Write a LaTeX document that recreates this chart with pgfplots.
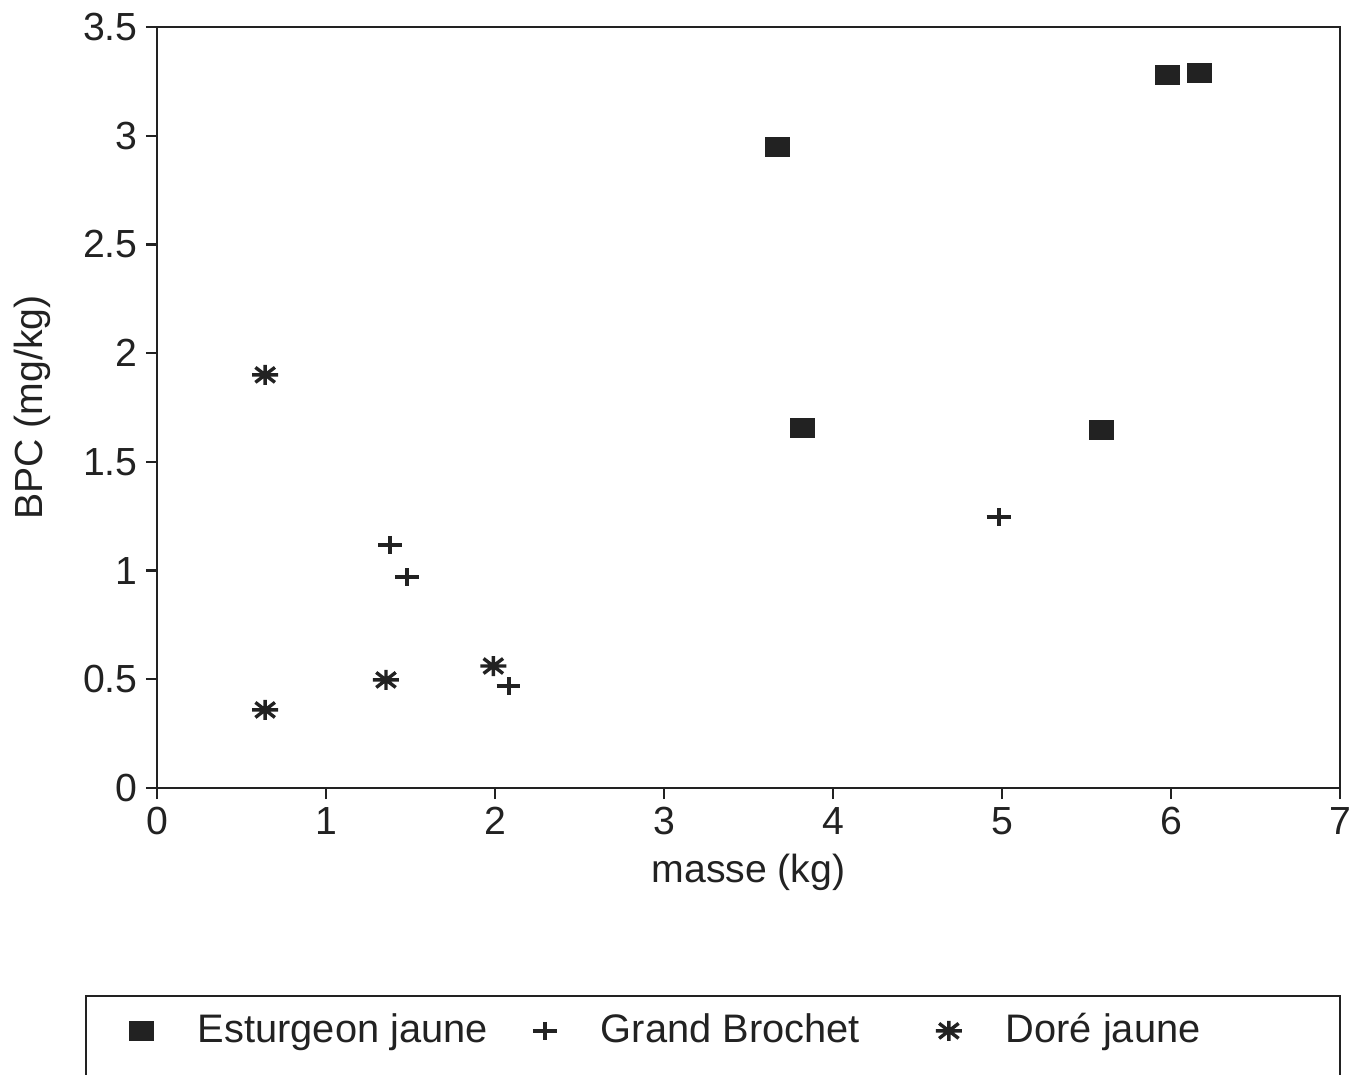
\documentclass[border=0pt]{standalone}
\usepackage{pgfplots}
\pgfplotsset{compat=1.18}
\usepackage{fontspec}
\setmainfont{Liberation Sans}
\setsansfont{Liberation Sans}
\newcommand{\F}{\fontsize{19.6pt}{23.5pt}\selectfont}
\newcommand{\FL}{\fontsize{19.9pt}{23.5pt}\selectfont}
\pgfdeclareplotmark{ast8}{%
  \pgfpathmoveto{\pgfqpoint{-\pgfplotmarksize}{0pt}}\pgfpathlineto{\pgfqpoint{\pgfplotmarksize}{0pt}}%
  \pgfpathmoveto{\pgfqpoint{0pt}{-\pgfplotmarksize}}\pgfpathlineto{\pgfqpoint{0pt}{\pgfplotmarksize}}%
  \pgfpathmoveto{\pgfqpoint{-.75\pgfplotmarksize}{-.75\pgfplotmarksize}}\pgfpathlineto{\pgfqpoint{.75\pgfplotmarksize}{.75\pgfplotmarksize}}%
  \pgfpathmoveto{\pgfqpoint{-.75\pgfplotmarksize}{.75\pgfplotmarksize}}\pgfpathlineto{\pgfqpoint{.75\pgfplotmarksize}{-.75\pgfplotmarksize}}%
  \pgfusepathqstroke}
\definecolor{ink}{HTML}{222222}
\begin{document}
\F
\begin{tikzpicture}
\begin{axis}[
  at={(0,0)}, anchor=south west,
  scale only axis, width=591.5pt, height=380.5pt,
  xmin=0, xmax=7, ymin=0, ymax=3.5,
  xtick={0,1,...,7}, ytick={0,0.5,1,1.5,2,2.5,3,3.5},
  axis line style={line width=1.3pt, ink},
  tick align=outside, tick pos=left, major tick length=5.5pt,
  tick style={line width=1.1pt, ink},
  /pgf/number format/assume math mode=true,
  ticklabel style={font=\F, text=ink},
  xticklabel style={yshift=2.5pt},
  yticklabel style={xshift=2.5pt},
  xlabel={masse (kg)}, ylabel={BPC (mg/kg)},
  every axis x label/.style={at={(axis description cs:0.5,-0.1104)}, anchor=center, font=\F, text=ink},
  every axis y label/.style={at={(axis description cs:-0.1057,0.5)}, rotate=90, anchor=center, font=\F, text=ink},
  legend columns=3,
  legend style={at={(axis description cs:0,0)}, anchor=north west, xshift=-36pt, yshift=-103.5pt,
    draw=ink, line width=0.9pt, font=\FL, text=ink,
    inner xsep=19.5pt, inner ysep=8.7pt,
    nodes={inner sep=0pt},
    /tikz/every odd column/.append style={column sep=22pt},
    /tikz/every even column/.append style={column sep=20pt}},
]
\addplot[only marks, mark=square*, mark size=4.75pt, color=ink, mark options={xscale=1.26, line width=0.5pt}]
  coordinates {(3.67,2.95) (3.82,1.655) (5.59,1.647) (5.98,3.28) (6.17,3.29)};
\addlegendentry{\makebox[147.5pt][l]{Esturgeon jaune}}
\addplot[only marks, mark=+, mark size=4.5pt, color=ink, mark options={xscale=1.33, line width=2pt}]
  coordinates {(1.38,1.118) (1.48,0.97) (2.08,0.469) (4.98,1.247)};
\addlegendentry{\makebox[147.5pt][l]{Grand Brochet}}
\addplot[only marks, mark=ast8, mark size=5pt, color=ink, mark options={xscale=1.3, line width=1.7pt}]
  coordinates {(0.64,1.90) (0.64,0.359) (1.355,0.497) (1.99,0.561)};
\addlegendentry{\makebox[147.5pt][l]{Doré jaune}}
\addlegendimage{empty legend}
\addlegendentry{\rule{0pt}{50pt}}
\end{axis}
\pgfresetboundingbox
\path[use as bounding box] (-78.5pt,-143.5pt) rectangle (599.5pt,394pt);
\end{tikzpicture}
\end{document}
